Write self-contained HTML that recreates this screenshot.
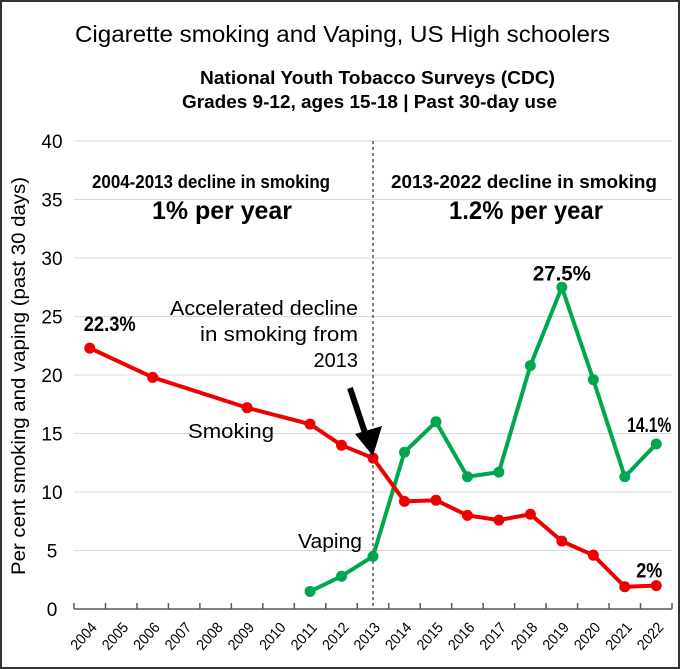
<!DOCTYPE html>
<html><head><meta charset="utf-8"><style>
body{margin:0;background:#fff}
svg{display:block}
text{font-family:"Liberation Sans Narrow","Liberation Sans",sans-serif;fill:#000}
</style></head><body>
<svg id="chart" width="680" height="669" viewBox="0 0 680 669">
<rect x="1" y="1" width="678" height="667" fill="#fff" stroke="#333" stroke-width="2"/>
<text x="75" y="42" font-size="23" textLength="535" lengthAdjust="spacingAndGlyphs">Cigarette smoking and Vaping, US High schoolers</text>
<text x="200" y="84" font-size="18" font-weight="bold" textLength="355" lengthAdjust="spacingAndGlyphs">National Youth Tobacco Surveys (CDC)</text>
<text x="182" y="108" font-size="18" font-weight="bold" textLength="375" lengthAdjust="spacingAndGlyphs">Grades 9-12, ages 15-18 | Past 30-day use</text>
<g id="grid"></g><g id="axes"></g><g id="series"></g>
<text transform="translate(25,376) rotate(-90)" text-anchor="middle" font-size="19" textLength="398" lengthAdjust="spacingAndGlyphs">Per cent smoking and vaping (past 30 days)</text>
<text x="92" y="188" font-size="18" font-weight="bold" textLength="238" lengthAdjust="spacingAndGlyphs">2004-2013 decline in smoking</text>
<text x="152" y="219" font-size="25" font-weight="bold" textLength="140" lengthAdjust="spacingAndGlyphs">1% per year</text>
<text x="391" y="188" font-size="18" font-weight="bold" textLength="266" lengthAdjust="spacingAndGlyphs">2013-2022 decline in smoking</text>
<text x="449" y="219" font-size="25" font-weight="bold" textLength="154" lengthAdjust="spacingAndGlyphs">1.2% per year</text>
<text x="170" y="315" font-size="20" textLength="188" lengthAdjust="spacingAndGlyphs">Accelerated decline</text>
<text x="200" y="341" font-size="20" textLength="158" lengthAdjust="spacingAndGlyphs">in smoking from</text>
<text x="358" y="367" text-anchor="end" font-size="20">2013</text>
<line x1="350" y1="388" x2="366" y2="436" stroke="#000" stroke-width="6"/>
<polygon points="355,434 382,426 373,456" fill="#000"/>
<text x="188" y="438" font-size="20" textLength="86" lengthAdjust="spacingAndGlyphs">Smoking</text>
<text x="298" y="548" font-size="20" textLength="64" lengthAdjust="spacingAndGlyphs">Vaping</text>
</svg>
<script>
const years=["2004","2005","2006","2007","2008","2009","2010","2011","2012","2013","2014","2015","2016","2017","2018","2019","2020","2021","2022"];
const yTicks=[0,5,10,15,20,25,30,35,40];
const smokingYears=["2004","2006","2009","2011","2012","2013","2014","2015","2016","2017","2018","2019","2020","2021","2022"];
const smokingValues=[22.3,19.8,17.2,15.8,14.0,12.9,9.2,9.3,8.0,7.6,8.1,5.8,4.6,1.9,2.0];
const vapingYears=["2011","2012","2013","2014","2015","2016","2017","2018","2019","2020","2021","2022"];
const vapingValues=[1.5,2.8,4.5,13.4,16.0,11.3,11.7,20.8,27.5,19.6,11.3,14.1];
const smokingLabels=[["2004","22.3%"],["2022","2%"]];
const vapingLabels=[["2019","27.5%"],["2022","14.1%"]];
const labelOffsets={"smoking-2004":[20,-17,52],"smoking-2022":[-7,-8,26],"vaping-2019":[0,-7,58],"vaping-2022":[-7,-12,44]};
const X0=74,X1=672,Y0=609,Y1=141;
const bw=(X1-X0)/years.length;
const xs=y=>X0+(years.indexOf(y)+0.5)*bw;
const ys=v=>Y0-(v/40)*(Y0-Y1);
const NS="http://www.w3.org/2000/svg";
function mk(parent,tag,attrs,txt){const e=document.createElementNS(NS,tag);for(const k in attrs)e.setAttribute(k,attrs[k]);if(txt!=null)e.textContent=txt;document.getElementById(parent).appendChild(e);return e;}
yTicks.forEach(t=>{
 if(t>0){const g=mk("grid","line",{x1:X0,x2:X1,y1:ys(t),y2:ys(t),stroke:"#d9d9d9","stroke-width":1});
 
 }
 const l=mk("axes","text",{x:52,y:ys(t)+7,"text-anchor":"middle","font-size":19,fill:"#7f7f7f"},t);
 
 
});
const ax=mk("axes","line",{x1:X0,x2:X1,y1:Y0,y2:Y0,stroke:"#595959","stroke-width":1.5});


for(let i=0;i<=years.length;i++){const tk=mk("axes","line",{x1:X0+i*bw,x2:X0+i*bw,y1:Y0,y2:Y0-6,stroke:"#595959","stroke-width":1.5});

}
years.forEach(y=>{const cx=xs(y)+8;const t=mk("axes","text",{x:cx,y:628,"text-anchor":"end","font-size":15,textLength:31,lengthAdjust:"spacingAndGlyphs",transform:`rotate(-48 ${cx} 628)`},y);

});
const dl=mk("axes","line",{x1:xs("2013"),x2:xs("2013"),y1:Y1,y2:Y0,stroke:"#000","stroke-width":1,"stroke-dasharray":"3,3"});


function series(yrs,vals,color,name){
 const p=mk("series","polyline",{points:yrs.map((y,i)=>xs(y)+","+ys(vals[i])).join(" "),fill:"none",stroke:color,"stroke-width":4,"stroke-linejoin":"round"});
 
 
 yrs.forEach((y,i)=>{const c=mk("series","circle",{cx:xs(y),cy:ys(vals[i]),r:5.5,fill:color});
 
 });
}
series(vapingYears,vapingValues,"#00a650","vaping");
series(smokingYears,smokingValues,"#ee0000","smoking");
function vlabels(list,yrs,vals,name){list.forEach(([y,s])=>{const v=vals[yrs.indexOf(y)];const o=labelOffsets[name+"-"+y]||[0,-14,40];
 const t=mk("series","text",{x:xs(y)+o[0],y:ys(v)+o[1],"text-anchor":"middle","font-size":21,"font-weight":"bold",textLength:o[2],lengthAdjust:"spacingAndGlyphs"},s);
 
 });}
vlabels(smokingLabels,smokingYears,smokingValues,"smoking");
vlabels(vapingLabels,vapingYears,vapingValues,"vaping");
</script>
</body></html>
